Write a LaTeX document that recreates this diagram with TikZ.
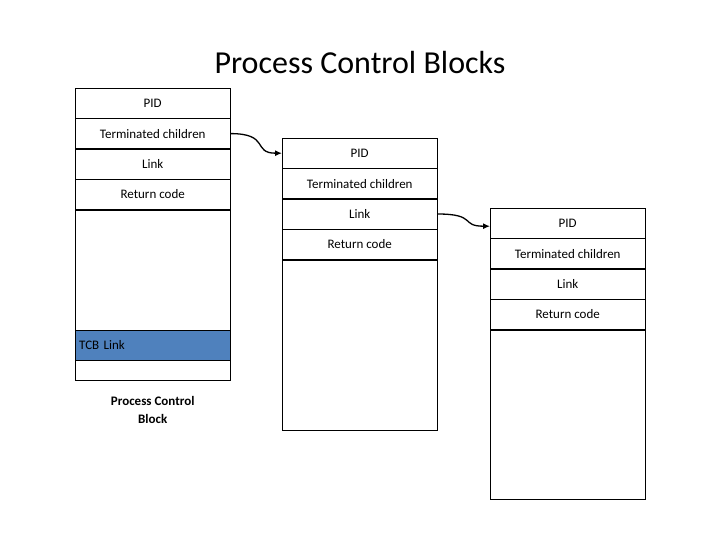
\documentclass[tikz,border=0pt]{standalone}
\usepackage{fontspec}
\setmainfont{Carlito}
\usetikzlibrary{positioning,arrows.meta}
\definecolor{tcbblue}{RGB}{79,129,189}
\tikzset{
  row/.style={draw,minimum width=155pt,minimum height=30pt,inner sep=0pt,font=\fontsize{13}{15}\selectfont,node distance=0pt},
  link/.style={line width=1.3pt,-{Latex[length=7pt,width=6pt]}}
}
\begin{document}
\begin{tikzpicture}[x=1pt,y=-1pt]
  \useasboundingbox (0,0) rectangle (720,540);
  \node[font=\fontsize{32}{36}\selectfont] (title) at (360,63) {Process Control Blocks};
  % first block
  \node[row,anchor=north west] (pidA) at (75,88) {PID};
  \node[row,below=of pidA] (termA) {Terminated children};
  \node[row,below=of termA] (linkA) {Link};
  \node[row,below=of linkA] (retA) {Return code};
  \node[row,below=of retA,minimum height=120pt] (bodyA) {};
  \node[row,below=of bodyA,fill=tcbblue,text width=147pt,align=left] (tcbA) {TCB Link};
  \node[row,below=of tcbA,minimum height=20pt] (endA) {};
  \node[below=12pt of endA,align=center,font=\fontsize{13}{18}\selectfont\bfseries] (capA) {Process Control\\Block};
  % second block
  \node[row,anchor=north west] (pidB) at (282,138) {PID};
  \node[row,below=of pidB] (termB) {Terminated children};
  \node[row,below=of termB] (linkB) {Link};
  \node[row,below=of linkB] (retB) {Return code};
  \node[row,below=of retB,minimum height=170pt] (bodyB) {};
  % third block
  \node[row,anchor=north west] (pidC) at (490,208) {PID};
  \node[row,below=of pidC] (termC) {Terminated children};
  \node[row,below=of termC] (linkC) {Link};
  \node[row,below=of linkC] (retC) {Return code};
  \node[row,below=of retC,minimum height=169pt] (bodyC) {};
  % links
  \draw[link] (termA.east) .. controls +(40,0) and +(-30,0) .. (pidB.west);
  \draw[link] (linkB.east) .. controls +(40,0) and +(-30,0) .. ([yshift=-3pt]pidC.west);
\end{tikzpicture}
\end{document}
